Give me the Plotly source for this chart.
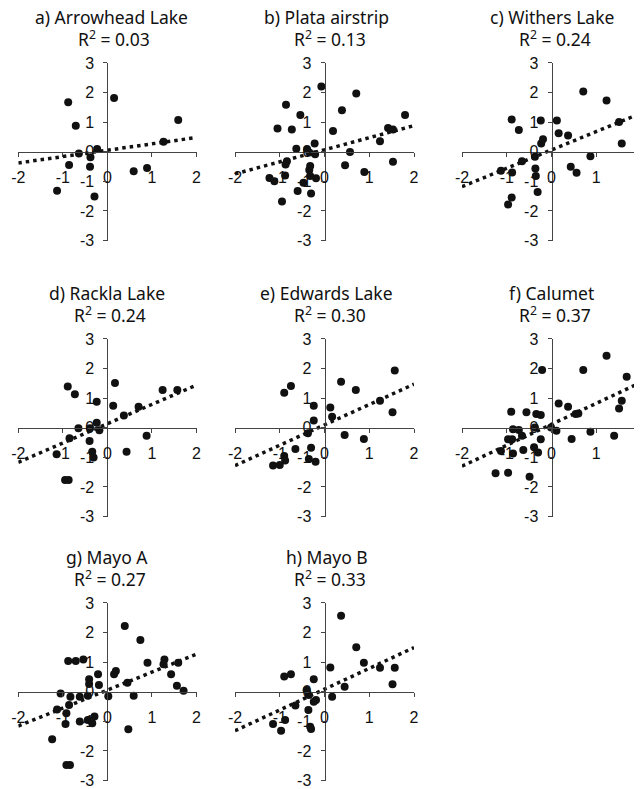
import plotly.graph_objects as go

W, H = 642, 789
PAGE_OFFSET = 8  # default body margin of the page that holds the figure

titles = ["a) Arrowhead Lake", "b) Plata airstrip", "c) Withers Lake", "d) Rackla Lake",
          "e) Edwards Lake", "f) Calumet", "g) Mayo A", "h) Mayo B"]
r2_values = ["0.03", "0.13", "0.24", "0.24", "0.30", "0.37", "0.27", "0.33"]

a_x = [-0.88, -0.71, 0.15, 1.59, 1.26, -0.64, -0.38, -0.23, -0.86, -0.39, 0.59, 0.89, -1.13, -0.29]
a_y = [1.67, 0.88, 1.81, 1.07, 0.34, -0.06, -0.19, 0.09, -0.45, -0.51, -0.66, -0.55, -1.32, -1.51]

b_x = [-0.07, 0.71, -0.86, 0.39, -0.54, 1.80, -1.05, -0.73, 0.19, 1.42, 1.53, 1.24, -0.63, -0.39,
       -0.22, -0.34, -0.21, 0.57, -0.84, -0.87, 1.53, 0.46, 0.89, -0.32, -0.34, -0.88, -1.23, -1.12,
       -0.19, -0.47, -0.60, -0.30, -0.95, -0.32]
b_y = [2.20, 1.97, 1.59, 1.40, 1.24, 1.24, 0.78, 0.75, 0.70, 0.80, 0.75, 0.35, 0.10, 0.08,
       0.28, -0.03, -0.09, -0.01, -0.32, -0.43, -0.34, -0.46, -0.69, -0.48, -0.62, -0.80, -0.89, -1.00,
       -0.90, -1.05, -1.33, -1.41, -1.68, -0.82]

c_x = [0.71, 1.23, -0.89, -0.24, 0.12, -0.73, 1.51, 0.16, 0.37, -0.19, -0.23, 1.57, 0.87, -0.37,
       -0.66, -1.13, -0.88, -0.36, 0.43, 0.56, -0.35, -0.31, -0.89, -0.97]
c_y = [2.03, 1.73, 1.09, 1.05, 1.05, 0.73, 1.00, 0.62, 0.55, 0.42, 0.28, 0.28, -0.15, -0.17,
       -0.32, -0.64, -0.70, -0.57, -0.51, -0.71, -0.82, -1.36, -1.55, -1.78]

d_x = [-0.89, 0.17, 1.57, 1.24, -0.73, -0.24, 0.13, 0.70, 0.37, -0.65, -0.24, -0.39, -0.18, 0.88,
       -0.85, -0.40, -1.14, -0.34, -0.31, 0.43, -0.95, -0.87]
d_y = [1.39, 1.51, 1.27, 1.27, 1.13, 0.88, 0.74, 0.71, 0.41, -0.02, 0.17, -0.02, -0.09, -0.27,
       -0.36, -0.45, -0.90, -0.81, -1.01, -0.81, -1.77, -1.77]

e_x = [1.57, 0.37, -0.75, -0.90, 0.70, -0.24, 0.13, 1.24, 0.17, 1.52, -0.24, -0.37, 0.45, 0.88,
       -0.65, -0.30, -0.90, -0.88, -0.35, -0.20, -1.15, -1.00]
e_y = [1.93, 1.55, 1.41, 1.18, 1.27, 0.74, 0.68, 0.91, 0.37, 0.52, 0.24, -0.19, -0.25, -0.38,
       -0.72, -0.68, -0.96, -1.11, -1.06, -1.15, -1.28, -1.26]

f_x = [1.23, -0.21, 0.71, 1.68, 1.57, 1.51, 0.16, 0.37, -0.90, -0.56, -0.34, -0.24, 0.54, 0.60,
       -0.86, -0.73, -0.66, -0.37, -0.01, 0.11, 0.45, 0.87, 1.40, -0.24, -0.97, -0.88, -1.13, -0.86,
       -0.63, -0.39, -0.30, -1.25, -0.97, -0.49]
f_y = [2.43, 1.95, 1.95, 1.72, 0.91, 0.65, 0.82, 0.71, 0.54, 0.52, 0.46, 0.43, 0.46, 0.48,
       -0.05, -0.08, -0.27, 0.01, 0.01, -0.10, -0.38, -0.14, -0.27, -0.39, -0.39, -0.39, -0.79, -0.87,
       -0.75, -0.66, -0.84, -1.54, -1.52, -1.66]

g_x = [0.39, 0.74, -0.88, -0.71, -0.54, 0.90, 1.28, 1.59, 1.26, 0.19, 0.15, -0.41, -0.21, -0.41,
       -0.19, 1.43, 1.56, 1.71, 0.45, -1.05, -0.83, -0.62, -0.44, 0.02, 0.59, -0.86, -1.13, -0.92,
       -0.62, -0.44, -0.29, -0.34, -0.94, 0.47, -1.24, -0.92, -0.84]
g_y = [2.22, 1.75, 1.04, 1.04, 1.09, 0.98, 1.09, 0.98, 0.93, 0.70, 0.59, 0.42, 0.59, 0.26,
       0.23, 0.59, 0.20, 0.03, 0.30, -0.06, -0.17, -0.17, -0.14, -0.15, -0.14, -0.45, -0.60, -0.73,
       -1.01, -0.96, -0.84, -1.07, -1.09, -1.27, -1.61, -2.48, -2.48]

h_x = [0.37, 0.71, 0.13, 0.88, 1.24, 1.57, -0.90, -0.75, -0.24, 0.45, 1.52, -0.40, 0.17, -0.35,
       -0.19, -0.24, -0.65, -0.36, -0.88, -1.15, -0.97, -0.32, -0.30]
h_y = [2.57, 1.50, 0.82, 0.98, 0.81, 0.81, 0.51, 0.59, 0.42, 0.17, 0.25, 0.06, -0.17, -0.11,
       -0.28, -0.34, -0.47, -0.62, -0.96, -1.09, -1.32, -1.18, -1.26]

panel_x = [a_x, b_x, c_x, d_x, e_x, f_x, g_x, h_x]
panel_y = [a_y, b_y, c_y, d_y, e_y, f_y, g_y, h_y]

# trend line values at the ends of the x axis (x = -2 and x = 2)
trend_x = [-2, 2]
trend_y = [[-0.38, 0.48], [-0.75, 0.88], [-1.18, 1.30], [-1.17, 1.44],
           [-1.28, 1.47], [-1.30, 1.53], [-1.16, 1.27], [-1.32, 1.49]]

x_ticks = [-2, -1, 0, 1, 2]
y_ticks = [-3, -2, -1, 0, 1, 2, 3]

# layout geometry in screen pixels
col_px = [(18.3, 196.5), (235.0, 414.0), (462.0, 641.0)]
row_px = [(62.9, 240.5), (338.9, 516.5), (602.9, 780.5)]
title_dx = [4, 2, 0, 0, 2, 0, 0, 2]

fig = go.Figure()
tick_font = dict(family="Liberation Sans, Arial, sans-serif", size=16, color="#111")
title_font = dict(family="Noto Sans, Open Sans, sans-serif", size=17.5, color="#111")
axis_color = "#444"


def fx(px):
    return (px - PAGE_OFFSET) / W


def fy(py):
    return 1 - (py - PAGE_OFFSET) / H


annotations = []
for i in range(8):
    r, c = divmod(i, 3)
    l, rr = col_px[c]
    t, b = row_px[r]
    sfx = "" if i == 0 else str(i + 1)
    xa = "x" + sfx
    ya = "y" + sfx
    xmid = (l + rr) / 2
    ymid = (t + b) / 2
    fig.add_trace(go.Scatter(
        x=panel_x[i], y=panel_y[i], mode="markers", xaxis=xa, yaxis=ya,
        marker=dict(size=8, color="#111"), showlegend=False, cliponaxis=False))
    fig.add_trace(go.Scatter(
        x=trend_x, y=trend_y[i], mode="lines", xaxis=xa, yaxis=ya,
        line=dict(color="#111", width=3.5, dash="3.5px,4px"), showlegend=False))
    fig.update_layout(**{
        "xaxis" + sfx: dict(domain=[fx(l), fx(rr)], range=[-2, 2], anchor="free",
                            position=fy(ymid), showline=True, linecolor=axis_color,
                            linewidth=1, showgrid=False, zeroline=False, automargin=False,
                            tickmode="array", tickvals=x_ticks,
                            ticktext=[str(v) for v in x_ticks], ticks="outside",
                            ticklen=4, tickcolor=axis_color, tickfont=tick_font,
                            ticklabelstandoff=7, ticklabeloverflow="allow"),
        "yaxis" + sfx: dict(domain=[fy(b), fy(t)], range=[-3, 3], anchor="free",
                            position=fx(xmid), showline=True, linecolor=axis_color,
                            linewidth=1, showgrid=False, zeroline=False, automargin=False,
                            tickmode="array", tickvals=y_ticks,
                            ticktext=[str(v) for v in y_ticks], ticks="outside",
                            ticklen=4, tickcolor=axis_color, tickfont=tick_font,
                            ticklabelstandoff=6, ticklabeloverflow="allow"),
    })
    annotations.append(dict(text=titles[i], xref="paper", yref="paper",
                            x=fx(xmid + title_dx[i]), y=fy(t - 46),
                            xanchor="center", yanchor="middle", showarrow=False,
                            font=title_font))
    annotations.append(dict(text="R<sup>2</sup> = " + r2_values[i], xref="paper", yref="paper",
                            x=fx(xmid + title_dx[i] + 3), y=fy(t - 24),
                            xanchor="center", yanchor="middle", showarrow=False,
                            font=title_font))

fig.update_layout(template="none", width=W, height=H, margin=dict(l=0, r=0, t=0, b=0),
                  paper_bgcolor="white", plot_bgcolor="white",
                  annotations=annotations, showlegend=False)

fig.write_html("out.html")
